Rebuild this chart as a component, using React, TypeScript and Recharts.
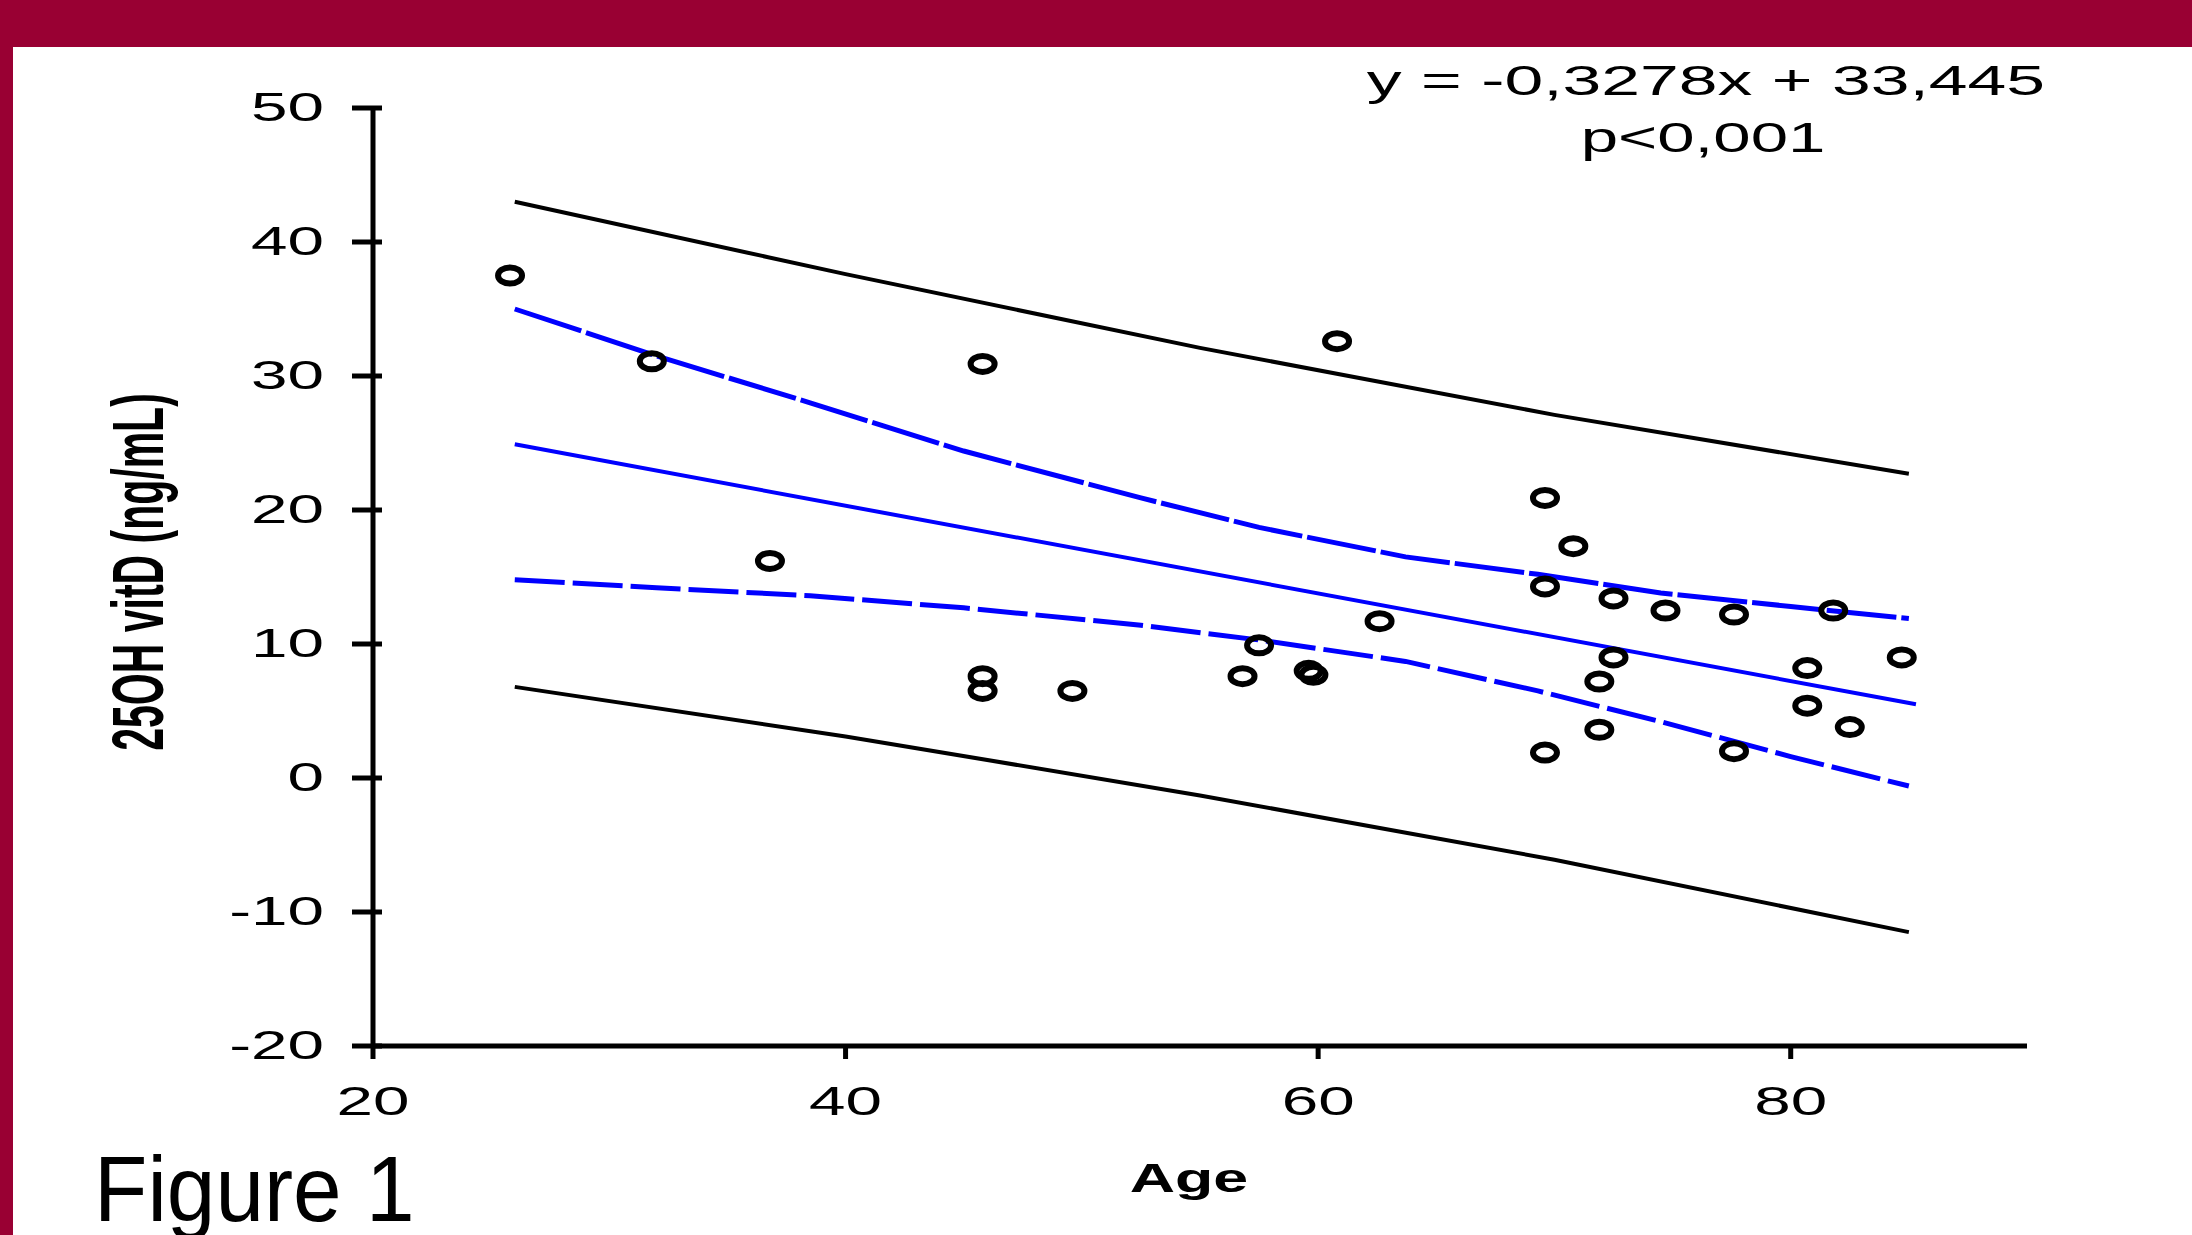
import { Scatter, ScatterChart, XAxis, YAxis } from 'recharts';

// patients: age vs 25OH vitamin D
const ages = [25.8, 31.8, 36.8, 45.8, 45.8, 45.8, 49.6, 56.8, 57.5, 59.6, 59.8, 60.8, 62.6, 69.6, 70.8, 69.6, 72.5, 74.7, 77.6, 81.8, 84.7, 72.5, 71.9, 80.7, 80.7, 82.5, 71.9, 69.6, 77.6];
const vitD = [37.5, 31.1, 16.2, 30.9, 7.6, 6.5, 6.5, 7.6, 9.9, 8.0, 7.7, 32.6, 11.7, 20.9, 17.3, 14.3, 13.4, 12.5, 12.2, 12.5, 9.0, 9.0, 7.2, 8.2, 5.4, 3.8, 3.6, 1.9, 2.0];

// regression line y = -0,3278x + 33,445
const fitAges = [26, 85.3];
const fitValues = [24.9, 5.5];

// 95% confidence band (blue)
const ciAges = [26, 32, 38.5, 45, 52.5, 57.5, 63.7, 69.3, 74.5, 80, 85];
const ciUpper = [35.0, 31.5, 28.0, 24.4, 20.9, 18.7, 16.5, 15.2, 13.8, 12.8, 11.9];
const ciLower = [14.8, 14.2, 13.6, 12.7, 11.4, 10.3, 8.7, 6.5, 4.2, 1.6, -0.6];

// prediction band (black)
const piAges = [26, 40, 55, 70, 85];
const piUpper = [43.0, 37.6, 32.1, 27.1, 22.7];
const piLower = [6.8, 3.1, -1.3, -6.1, -11.5];

const xTicks = [20, 40, 60, 80];
const yTicks = [-20, -10, 0, 10, 20, 30, 40, 50];

const toPoints = (xs: number[], ys: number[]) => xs.map((x, i) => ({ x, y: ys[i] }));

const font = '"Liberation Sans", Arial, sans-serif';
const crimson = '#990033';

function YTick({ x, y, payload }: any) {
  const axisX = x + 28 + 21;
  return (
    <g>
      <line x1={axisX - 21} x2={axisX + 9} y1={y} y2={y} stroke="#000" strokeWidth={5} />
      <text transform={`translate(${x},${y + 13}) scale(1.6,1)`} textAnchor="end" fontFamily={font} fontSize={41} fill="#000">
        {payload.value}
      </text>
    </g>
  );
}

function XTick({ x, y, payload }: any) {
  return (
    <text transform={`translate(${x},${y + 48}) scale(1.6,1)`} textAnchor="middle" fontFamily={font} fontSize={41} fill="#000">
      {payload.value}
    </text>
  );
}

const Ring = ({ cx, cy }: any) => (
  <ellipse cx={cx} cy={cy} rx={12} ry={8} fill="none" stroke="#000" strokeWidth={6} />
);
const NoDot = () => <g />;

export default function App() {
  return (
    <div style={{ position: 'absolute', left: 0, top: 0, width: 2192, height: 1235, background: crimson, overflow: 'hidden' }}>
      <div style={{ position: 'absolute', left: 13, top: 47, width: 2179, height: 1188, background: '#fff' }} />
      <div style={{ position: 'absolute', left: 0, top: 0 }}>
        <ScatterChart width={2192} height={1235} margin={{ top: 108, right: 165, bottom: 129, left: 273 }}>
          <XAxis
            type="number"
            dataKey="x"
            domain={[20, 90]}
            ticks={xTicks}
            allowDataOverflow
            height={60}
            tickSize={13}
            tickMargin={8}
            axisLine={{ stroke: '#000', strokeWidth: 5 }}
            tickLine={{ stroke: '#000', strokeWidth: 5 }}
            tick={<XTick />}
          />
          <YAxis
            type="number"
            dataKey="y"
            domain={[-20, 50]}
            ticks={yTicks}
            allowDataOverflow
            width={100}
            tickSize={21}
            tickMargin={28}
            axisLine={{ stroke: '#000', strokeWidth: 5 }}
            tickLine={false}
            tick={<YTick />}
          />
          <Scatter data={toPoints(piAges, piUpper)} line={{ stroke: '#000', strokeWidth: 4 }} shape={NoDot} isAnimationActive={false} />
          <Scatter data={toPoints(piAges, piLower)} line={{ stroke: '#000', strokeWidth: 4 }} shape={NoDot} isAnimationActive={false} />
          <Scatter data={toPoints(ciAges, ciUpper)} line={{ stroke: '#0000ff', strokeWidth: 5, strokeDasharray: '70 5' }} shape={NoDot} isAnimationActive={false} />
          <Scatter data={toPoints(ciAges, ciLower)} line={{ stroke: '#0000ff', strokeWidth: 5, strokeDasharray: '50 8' }} shape={NoDot} isAnimationActive={false} />
          <Scatter data={toPoints(fitAges, fitValues)} line={{ stroke: '#0000ff', strokeWidth: 4 }} shape={NoDot} isAnimationActive={false} />
          <Scatter data={toPoints(ages, vitD)} shape={Ring} isAnimationActive={false} />
        </ScatterChart>
      </div>
      <svg width={2192} height={1235} style={{ position: 'absolute', left: 0, top: 0, pointerEvents: 'none' }}>
        <defs>
          <clipPath id="eqclip">
            <rect x={0} y={0} width={2042} height={1235} />
          </clipPath>
        </defs>
        <g clipPath="url(#eqclip)" fontFamily={font} fontSize={42} fill="#000">
          <text transform="translate(1706,95) scale(1.66,1)" textAnchor="middle">y = -0,3278x + 33,445</text>
          <text transform="translate(1703,152) scale(1.6,1)" textAnchor="middle">p&lt;0,001</text>
        </g>
        <text transform="translate(1189,1192) scale(1.55,1)" textAnchor="middle" fontFamily={font} fontWeight="bold" fontSize={40.5} fill="#000">
          Age
        </text>
        <text transform="translate(163,572) scale(1.75,1) rotate(-90)" textAnchor="middle" fontFamily={font} fontWeight="bold" fontSize={41} fill="#000">
          25OH vitD (ng/mL)
        </text>
        <text transform="translate(94,1221) scale(0.95,1)" fontFamily={font} fontSize={92} fill="#000">
          Figure 1
        </text>
      </svg>
    </div>
  );
}
